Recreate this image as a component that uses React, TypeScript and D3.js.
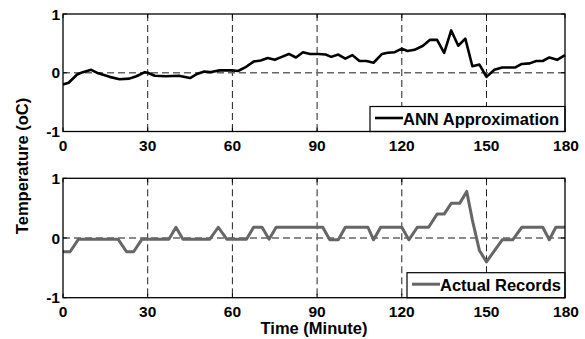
import React from "react";
import * as d3 from "d3";

const xTicks = [0, 30, 60, 90, 120, 150, 180];
const yTicks = [-1, 0, 1];

const annTime = [0, 2, 5, 7, 10, 12.5, 16.5, 20, 23.5, 26, 29, 30, 32.5, 36.5, 41, 45, 47.5, 50, 52, 55.5, 60, 62, 64.5, 67.5, 70, 72.5, 75, 77.5, 80, 82.5, 85, 87.5, 90.5, 93, 95, 97.5, 100, 102.5, 105, 107.5, 110, 113, 115, 117.5, 120, 122, 124.5, 127.5, 130, 132.5, 135, 137.5, 140, 142.5, 145, 147.5, 150, 153, 156, 161, 163.5, 166.5, 169, 171.5, 174, 177, 180];
const annValue = [-0.2, -0.17, -0.03, 0.01, 0.05, -0.01, -0.07, -0.11, -0.1, -0.06, 0.01, 0.0, -0.05, -0.06, -0.05, -0.09, -0.02, 0.02, 0.01, 0.04, 0.04, 0.03, 0.09, 0.19, 0.21, 0.25, 0.22, 0.27, 0.32, 0.26, 0.35, 0.32, 0.32, 0.31, 0.27, 0.31, 0.24, 0.3, 0.2, 0.2, 0.17, 0.32, 0.34, 0.35, 0.41, 0.37, 0.39, 0.46, 0.56, 0.56, 0.34, 0.72, 0.46, 0.58, 0.11, 0.14, -0.07, 0.05, 0.09, 0.09, 0.15, 0.16, 0.2, 0.2, 0.26, 0.22, 0.3];

const actTime = [0, 2.5, 5.5, 19.5, 22.5, 25, 28, 37.5, 40, 42.5, 52, 55, 58, 65, 67.5, 70.5, 73, 75.5, 92, 94.5, 97.5, 100, 108, 110, 112.5, 120, 122.5, 125.5, 129.5, 132.5, 135, 137.5, 140.5, 143, 145, 147.5, 150, 156, 160, 163.5, 171.5, 174, 176.5, 180];
const actValue = [-0.23, -0.23, -0.02, -0.02, -0.23, -0.23, -0.02, -0.02, 0.18, -0.02, -0.02, 0.18, -0.02, -0.02, 0.18, 0.18, -0.02, 0.18, 0.18, -0.03, -0.03, 0.18, 0.18, -0.03, 0.18, 0.18, -0.03, 0.18, 0.18, 0.4, 0.4, 0.58, 0.58, 0.78, 0.3, -0.21, -0.4, -0.03, -0.03, 0.18, 0.18, -0.03, 0.18, 0.18];

const FONT = "'Liberation Sans', Arial, Helvetica, sans-serif";

const x = d3.scaleLinear().domain([0, 150, 180]).range([63, 486.5, 565]);

type PanelProps = {
  top: number;
  bottom: number;
  times: number[];
  values: number[];
  color: string;
  width: number;
  label: string;
  legendLeft: number;
};

function Panel({ top, bottom, times, values, color, width, label, legendLeft }: PanelProps) {
  const y = d3.scaleLinear().domain([-1, 1]).range([bottom, top]);
  const [x0, x1] = [x(0), x(180)];
  const line = d3
    .line<number>()
    .x((_, i) => x(times[i]))
    .y((d) => y(d));
  const legTop = bottom - 25;
  const legMid = (legTop + bottom) / 2;
  return (
    <g>
      {xTicks.filter((t) => t > 0 && t < 180).map((t) => (
        <line key={"gx" + t} x1={x(t)} x2={x(t)} y1={top} y2={bottom} stroke="#222" strokeWidth={1} strokeDasharray="7,4" />
      ))}
      {yTicks.filter((t) => t > -1 && t < 1).map((t) => (
        <line key={"gy" + t} x1={x0} x2={x1} y1={y(t)} y2={y(t)} stroke="#666" strokeWidth={1.3} strokeDasharray="7,4" />
      ))}
      <path d={line(values) || ""} fill="none" stroke={color} strokeWidth={width} strokeLinejoin="round" />
      {xTicks.map((t) => (
        <g key={"tx" + t}>
          <line x1={x(t)} x2={x(t)} y1={bottom} y2={bottom - 4} stroke="#000" />
          <line x1={x(t)} x2={x(t)} y1={top} y2={top + 4} stroke="#000" />
        </g>
      ))}
      {yTicks.map((t) => (
        <g key={"ty" + t}>
          <line x1={x0} x2={x0 + 4} y1={y(t)} y2={y(t)} stroke="#000" />
          <line x1={x1} x2={x1 - 4} y1={y(t)} y2={y(t)} stroke="#000" />
        </g>
      ))}
      <rect x={legendLeft} y={legTop} width={x1 - legendLeft} height={bottom - legTop} fill="#fff" stroke="#000" strokeWidth={1.2} />
      <line x1={legendLeft + 5} x2={legendLeft + 33} y1={legMid - 1} y2={legMid - 1} stroke={color} strokeWidth={width} />
      <text x={legendLeft + 33} y={legMid + 6} fontFamily={FONT} fontWeight="bold" fontSize={16.5} fill="#000">
        {label}
      </text>
      <rect x={x0} y={top} width={x1 - x0} height={bottom - top} fill="none" stroke="#000" strokeWidth={1.3} />
      {xTicks.map((t) => (
        <text key={"lx" + t} x={x(t) + (t === 180 ? 1 : 0)} y={bottom + 19} textAnchor="middle" fontFamily={FONT} fontWeight="bold" fontSize={15.5} fill="#000">
          {t}
        </text>
      ))}
      {yTicks.map((t) => (
        <text key={"ly" + t} x={x0 - 3} y={y(t) + 5.5} textAnchor="end" fontFamily={FONT} fontWeight="bold" fontSize={15.5} fill="#000">
          {t}
        </text>
      ))}
    </g>
  );
}

export default function App() {
  return (
    <svg width={585} height={339} style={{ position: "absolute", left: 0, top: 0, background: "#fff" }}>
      <rect x={0} y={0} width={585} height={339} fill="#fff" />
      <Panel top={14} bottom={131.5} times={annTime} values={annValue} color="#000" width={2.6} label="ANN Approximation" legendLeft={370} />
      <Panel top={178.3} bottom={297.7} times={actTime} values={actValue} color="#666" width={3} label="Actual Records" legendLeft={407} />
      <text transform="translate(28,166) rotate(-90)" textAnchor="middle" fontFamily={FONT} fontWeight="bold" fontSize={16.5} fill="#000">
        Temperature (oC)
      </text>
      <text x={314} y={333.5} textAnchor="middle" fontFamily={FONT} fontWeight="bold" fontSize={16.5} fill="#000">
        Time (Minute)
      </text>
    </svg>
  );
}
